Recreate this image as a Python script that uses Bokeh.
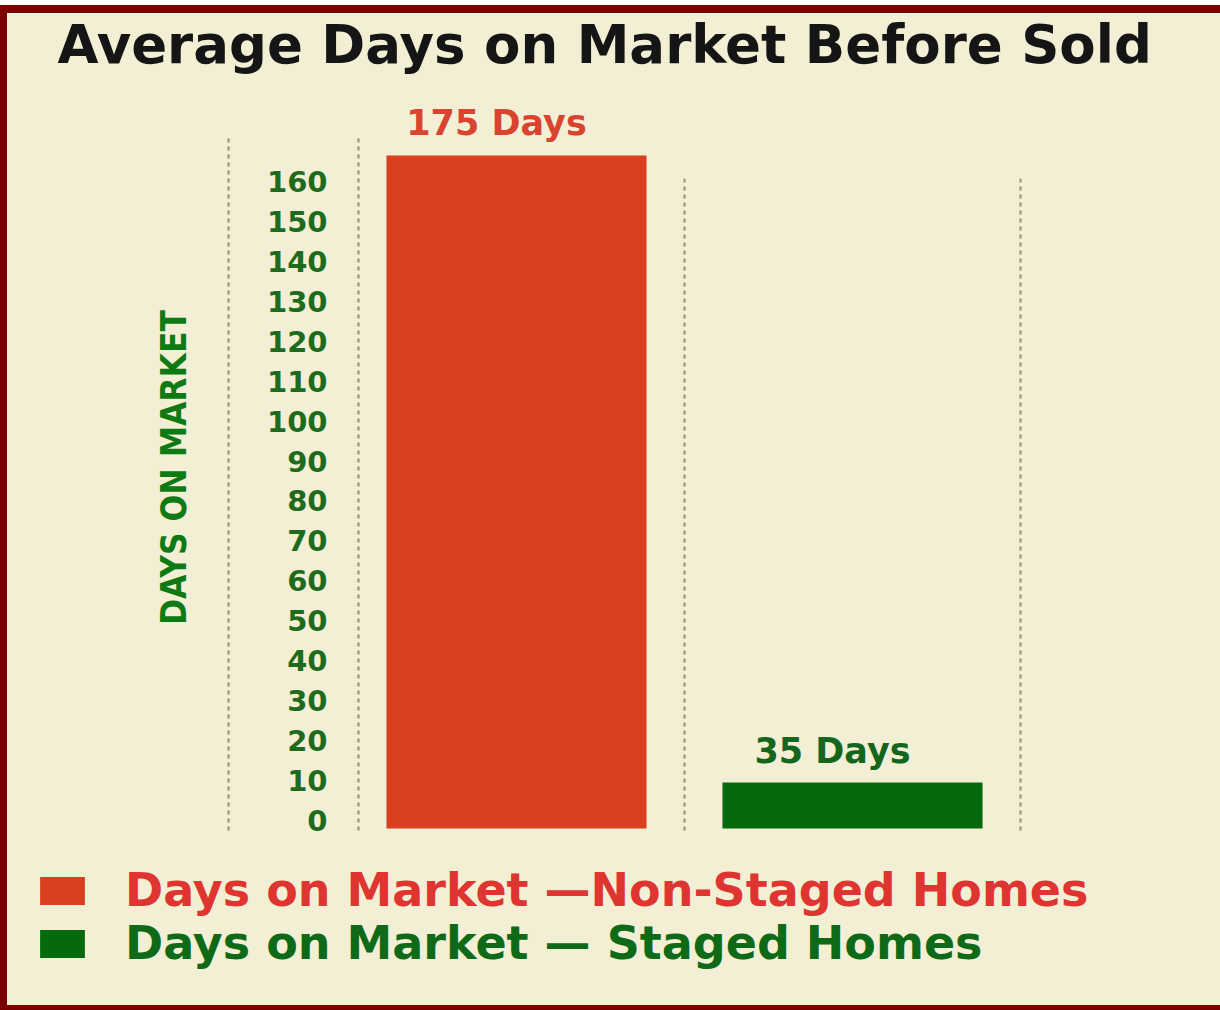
from bokeh.plotting import figure
from bokeh.models import (Range1d, LinearAxis, FixedTicker, ColumnDataSource,
                          LabelSet, Label, Legend, LegendItem)
from bokeh.core.properties import value
from bokeh.embed import file_html
from bokeh.resources import INLINE

# ---------------- data ----------------
title_text = "Average Days on Market Before Sold"
groups = ["Non-Staged Homes", "Staged Homes"]
bar_heights = [166.5, 9.5]          # drawn bar heights
day_labels = ["175 Days", "35 Days"]
legend_labels = ["Days on Market \u2014Non-Staged Homes", "Days on Market \u2014 Staged Homes"]
y_ticks = list(range(0, 161, 10))
axis_title = "DAYS ON MARKET"

# ---------------- style ----------------
BG = "#F3EFD5"
BORDER = "#7A0000"
DOT = "#A19F86"
bar_colors = ["#D8401F", "#056A0E"]
label_colors = ["#D9442F", "#14661C"]
legend_colors = ["#DE3530", "#0E6A17"]
SANS = "DejaVu Sans"
NARROW = "'DejaVu Sans Condensed', 'Liberation Sans Narrow', 'Roboto Condensed', Roboto, sans-serif"

xs = list(range(len(groups)))

W, H = 1220, 1005
p = figure(width=W, height=H,
           x_range=Range1d(-1.5149, 2.1161), y_range=Range1d(-49.57, 202.05),
           output_backend="svg", toolbar_location=None,
           x_axis_location=None, y_axis_location=None,
           min_border_left=0, min_border_right=0, min_border_top=0, min_border_bottom=0,
           background_fill_color=BG, border_fill_color=BG, outline_line_color=None)
p.styles = {"border-left": f"7px solid {BORDER}",
            "border-top": f"8px solid {BORDER}",
            "border-bottom": f"5px solid {BORDER}",
            "margin-top": "5px"}
p.grid.visible = False

# title
p.add_layout(Label(x=50, y=H - 31, x_units="screen", y_units="screen",
                   text=title_text, text_font=SANS, text_font_size="53px",
                   text_font_style="bold", text_color="#151515",
                   text_baseline="alphabetic", text_align="left"))

axis_bounds = (-2.5, 171.5)
left_axis_x = [-0.857, -0.4702]     # positions of the two dotted left rules

ax1 = LinearAxis(fixed_location=left_axis_x[1], ticker=FixedTicker(ticks=y_ticks),
                 bounds=axis_bounds,
                 axis_line_color=DOT, axis_line_dash="4 4", axis_line_width=2.5,
                 major_tick_line_color=None, minor_tick_line_color=None,
                 major_tick_out=0, minor_tick_out=0, major_tick_in=0, minor_tick_in=0,
                 major_label_standoff=31,
                 major_label_text_font=SANS, major_label_text_font_size="29px",
                 major_label_text_font_style="bold", major_label_text_color="#1E6B1E")
p.add_layout(ax1, "left")

ax2 = LinearAxis(fixed_location=left_axis_x[0], ticker=FixedTicker(ticks=[]),
                 bounds=(5, 171.8), axis_line_color=None,
                 major_tick_line_color=None, minor_tick_line_color=None,
                 major_tick_out=0, minor_tick_out=0, major_tick_in=0, minor_tick_in=0,
                 major_label_standoff=0,
                 axis_label=axis_title, axis_label_standoff=35,
                 axis_label_text_font=NARROW,
                 axis_label_text_font_size="35px", axis_label_text_font_style="bold",
                 axis_label_text_color="#0E7A14")
p.add_layout(ax2, "left")

# outer dotted rule (left of tick labels)
p.segment(x0=left_axis_x[:1], y0=axis_bounds[0], x1=left_axis_x[:1], y1=axis_bounds[1],
          line_color=DOT, line_width=2.5, line_dash="4 4")

source = ColumnDataSource(dict(x=xs, top=bar_heights, color=bar_colors,
                               label=day_labels, label_color=label_colors))

seps = [x + 0.5 for x in xs]
p.segment(x0=seps, y0=-2.5, x1=seps, y1=160.7, line_color=DOT,
          line_width=2.5, line_dash="4 4")

r = p.vbar(x="x", top="top", bottom=-2, width=0.774, fill_color="color",
           line_color=None, source=source)

p.add_layout(LabelSet(x="x", y="top", text="label", source=source,
                      x_offset=-20, y_offset=20, text_align="center",
                      text_baseline="alphabetic", text_font=value(SANS),
                      text_font_size=value("35px"), text_font_style=value("bold"),
                      text_color="label_color"))

legend_y = [101, 48]
for i in xs:
    leg = Legend(items=[LegendItem(label=legend_labels[i], renderers=[r], index=i)],
                 location=(27, legend_y[i]), glyph_width=56, glyph_height=35,
                 label_standoff=35, label_text_font=SANS,
                 label_text_font_size="46px", label_text_font_style="bold",
                 label_text_color=legend_colors[i], border_line_color=None,
                 background_fill_alpha=0, padding=0, margin=0)
    p.add_layout(leg)

open("out.html", "w").write(file_html(p, INLINE))
